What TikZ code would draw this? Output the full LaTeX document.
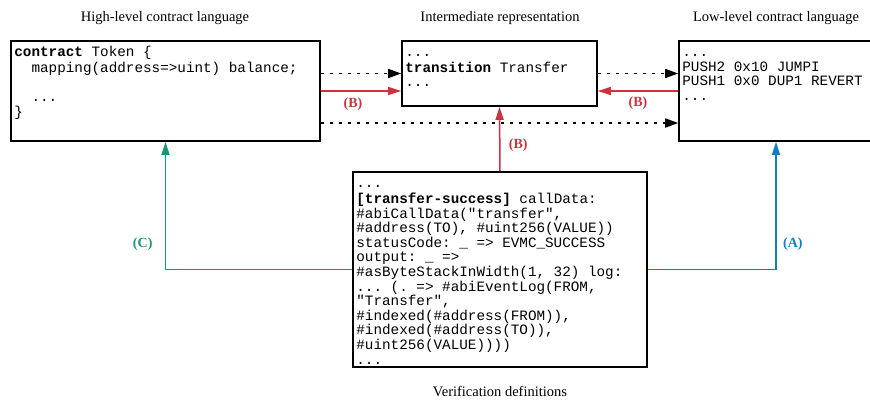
\documentclass[tikz,border=0pt]{standalone}
\usepackage{fontspec}
\setmainfont{Liberation Serif}
\setmonofont{Liberation Mono}
\usetikzlibrary{arrows.meta,positioning}
\definecolor{lred}{RGB}{205,50,62}
\definecolor{lgreen}{RGB}{24,150,122}
\definecolor{lblue}{RGB}{16,128,196}
\newcommand{\codefont}{\ttfamily\fontsize{14.3}{14.6}\selectfont}
\tikzset{
  codebox/.style={draw,line width=1.6pt,inner sep=0pt},
  code/.style={anchor=north west,align=left,inner sep=0pt,font=\codefont},
  title/.style={font=\fontsize{14.5}{16}\selectfont},
  dotarrow/.style={line width=1.7pt,dash pattern=on 3pt off 6pt,-{Triangle[length=13pt,width=9pt]}},
  colarrow/.style={line width=1.5pt,#1,-{Triangle[length=13pt,width=8pt]}},
  lbl/.style={font=\fontsize{14}{16}\selectfont\bfseries,text=#1},
}
\begin{document}
\begin{tikzpicture}[x=1pt,y=-1pt]
        \clip (0,0) rectangle (870,399);
        % boxes
        \node[codebox,minimum width=309pt,minimum height=100pt] (hl) at (165.5,91) {};
        \node[codebox,minimum width=195pt,minimum height=65pt] (ir) at (499.5,73.5) {};
        \node[codebox,minimum width=194pt,minimum height=100pt] (ll) at (776,91) {};
        \node[codebox,minimum width=294pt,minimum height=195pt] (vd) at (500,269.5) {};
        % titles
        \node[title] (hltitle) at (165,18) {High-level contract language};
        \node[title] (irtitle) at (500,18) {Intermediate representation};
        \node[title] (lltitle) at (776,18) {Low-level contract language};
        \node[title] (vdtitle) at (500,391) {Verification definitions};
        % code
        \node[code] (hlcode) at ([shift={(4pt,-6pt)}]hl.north west) {%
            \strut\textbf{contract} Token \{\\
            \phantom{xx}mapping(address=>uint) balance;\\
            \\
            \phantom{xx}...\\
            \}};
        \node[code] (ircode) at ([shift={(4pt,-6pt)}]ir.north west) {%
            \strut...\\
            \textbf{transition} Transfer\\
            ...};
        \node[code] (llcode) at ([shift={(4pt,-6pt)}]ll.north west) {%
            \strut...\\
            PUSH2 0x10 JUMPI\\
            PUSH1 0x0 DUP1 REVERT\\
            ...};
        \node[code] (vdcode) at ([shift={(4pt,-6pt)}]vd.north west) {%
            \strut...\\
            \textbf{[transfer-success]} callData:\\
            \#abiCallData("transfer",\\
            \#address(TO), \#uint256(VALUE))\\
            statusCode: \_ => EVMC\_SUCCESS\\
            output: \_ =>\\
            \#asByteStackInWidth(1, 32) log:\\
            ... (. => \#abiEventLog(FROM,\\
            "Transfer",\\
            \#indexed(\#address(FROM)),\\
            \#indexed(\#address(TO)),\\
            \#uint256(VALUE))))\\
            ...};
        % connectors
        \draw[dotarrow] (hl.east |- ir.west) -- (ir.west);
        \draw[dotarrow] (ir.east) -- (ir.east -| ll.west);
        \draw[dotarrow] ([yshift=-32pt]hl.east) -- ([yshift=-32pt]ll.west);
        \draw[colarrow=lred] (hl.east) -- (hl.east -| ir.west)
            node[pos=0.4,below=3pt,lbl=lred] (b1) {(B)};
        \draw[colarrow=lred] (ll.west) -- (ll.west -| ir.east)
            node[midway,below=2pt,lbl=lred] (b2) {(B)};
        \draw[colarrow=lred] (vd.north) -- (ir.south)
            node[pos=0.4,right=5pt,lbl=lred] (b3) {(B)};
        \draw[colarrow=lgreen] (vd.west) -| (hl.south)
            node[pos=0.6,left=9pt,lbl=lgreen] (c) {(C)};
        \draw[colarrow=lblue] (vd.east) -| (ll.south)
            node[pos=0.6,right=3pt,lbl=lblue] (a) {(A)};
\end{tikzpicture}
\end{document}
